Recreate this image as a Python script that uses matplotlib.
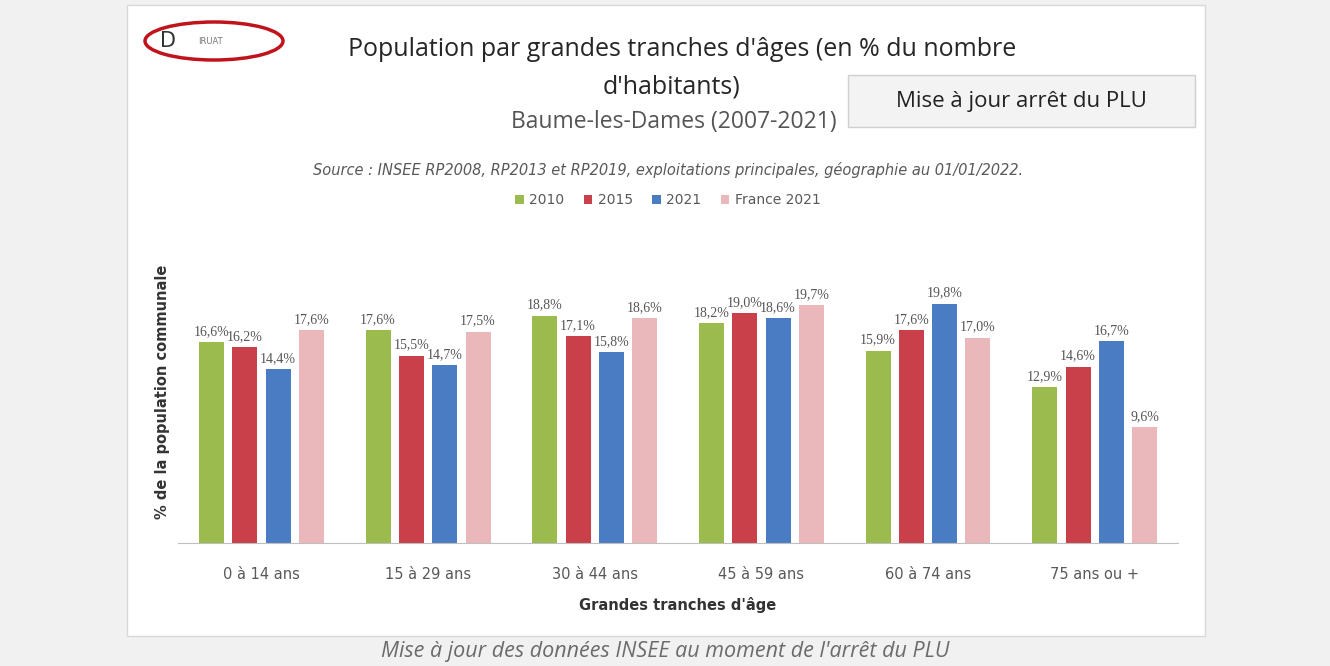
import numpy as np
import matplotlib
matplotlib.use("Agg")
import matplotlib.pyplot as plt
from matplotlib.patches import Rectangle, Ellipse

# data
tranches = ["0 à 14 ans", "15 à 29 ans", "30 à 44 ans", "45 à 59 ans", "60 à 74 ans", "75 ans ou +"]
series_names = ["2010", "2015", "2021", "France 2021"]
v2010 = [16.6, 17.6, 18.8, 18.2, 15.9, 12.9]
v2015 = [16.2, 15.5, 17.1, 19.0, 17.6, 14.6]
v2021 = [14.4, 14.7, 15.8, 18.6, 19.8, 16.7]
vfrance = [17.6, 17.5, 18.6, 19.7, 17.0, 9.6]

colors = ["#9bbb4f", "#c9404a", "#4a7cc4", "#eab8bb"]

W, H = 1330, 666
fig = plt.figure(figsize=(W / 100, H / 100), dpi=100)
fig.patch.set_facecolor("#f1f1f1")

def fx(px):
    return px / W

def fy(py):
    return 1 - py / H

# white panel of the screenshot (behind everything)
panel = Rectangle((fx(127), fy(636)), fx(1205) - fx(127), fy(5) - fy(636),
                  transform=fig.transFigure, facecolor="white", edgecolor="#d8d8d8", lw=1, zorder=-10)
fig.patches.append(panel)

# logo (rough)
logo = Ellipse((fx(214), fy(41)), fx(138), 38 / H, transform=fig.transFigure,
               facecolor="none", edgecolor="#c0141c", lw=2.5, zorder=-5)
fig.patches.append(logo)
fig.text(fx(168), fy(41), "D", fontsize=15, color="#333333", ha="center", va="center")
fig.text(fx(210), fy(42), "IRUAT", fontsize=6, color="#777777", ha="center", va="center")

# titles
fig.text(fx(682), fy(50), "Population par grandes tranches d'âges (en % du nombre",
         fontsize=18, family="Open Sans", color="#262626", ha="center", va="center")
fig.text(fx(671), fy(87), "d'habitants)", fontsize=18, family="Open Sans",
         color="#262626", ha="center", va="center")
fig.text(fx(674), fy(122), "Baume-les-Dames (2007-2021)", fontsize=16.5, family="Open Sans",
         color="#555555", ha="center", va="center")
fig.text(fx(668), fy(170),
         "Source : INSEE RP2008, RP2013 et RP2019, exploitations principales, géographie au 01/01/2022.",
         fontsize=10.5, style="italic", color="#595959", ha="center", va="center")

# box on the right
box = Rectangle((fx(848), fy(127)), fx(1195) - fx(848), fy(75) - fy(127),
                transform=fig.transFigure, facecolor="#f3f3f3", edgecolor="#cfcfcf", lw=1, zorder=-5)
fig.patches.append(box)
fig.text(fx(1021), fy(101), "Mise à jour arrêt du PLU", fontsize=16, family="Open Sans",
         color="#222222", ha="center", va="center")

# chart
ax = fig.add_axes([fx(178), fy(543), fx(1178) - fx(178), fy(253) - fy(543)])
ax.set_facecolor("none")
x = np.arange(len(tranches))
width = 0.15
offsets = [-0.3, -0.1, 0.1, 0.3]
all_vals = [v2010, v2015, v2021, vfrance]
handles = []
for vals, off, c, name in zip(all_vals, offsets, colors, series_names):
    b = ax.bar(x + off, vals, width, color=c, label=name)
    handles.append(b)
    for xi, v in zip(x + off, vals):
        ax.text(xi, v + 0.35, ("%.1f" % v).replace(".", ",") + "%", ha="center", va="bottom",
                fontsize=10, family="Liberation Serif", color="#555555")

ax.set_xlim(-0.5, len(tranches) - 0.5)
ax.set_ylim(0, 24)
ax.set_yticks([])
ax.set_xticks(x)
ax.set_xticklabels(tranches, fontsize=10.5, color="#595959")
ax.tick_params(axis="x", length=0, pad=17)
for s in ["top", "right", "left"]:
    ax.spines[s].set_visible(False)
ax.spines["bottom"].set_color("#bfbfbf")
ax.set_xlabel("Grandes tranches d'âge", fontsize=10.5, fontweight="bold", color="#333333", labelpad=11)
ax.set_ylabel("% de la population communale", fontsize=10.5, fontweight="bold", color="#333333")
ax.yaxis.set_label_coords(-0.008, 0.52)

fig.legend(handles, series_names, loc="center", bbox_to_anchor=(fx(668), fy(200)), ncol=4,
           frameon=False, fontsize=10, handlelength=0.6, handleheight=0.6, columnspacing=1.4,
           handletextpad=0.4, labelcolor="#595959")

# caption under the screenshot
fig.text(fx(665), fy(652), "Mise à jour des données INSEE au moment de l'arrêt du PLU",
         fontsize=15.5, style="italic", family="Open Sans", color="#6b6b6b", ha="center", va="center")

fig.savefig("out.png", dpi=100, facecolor=fig.get_facecolor())
